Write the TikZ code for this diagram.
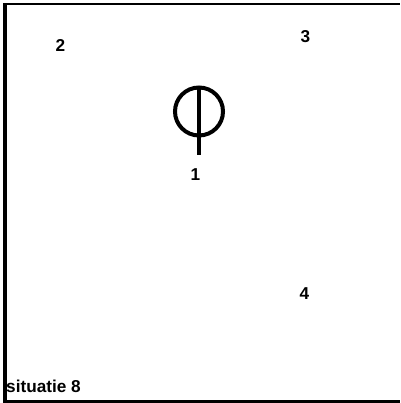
\documentclass[tikz,border=0pt]{standalone}
\usepackage{fontspec}
\setmainfont{Liberation Sans}
\tikzset{lbl/.style={font=\fontsize{17.2pt}{20pt}\selectfont\bfseries,inner sep=0pt}}
\begin{document}
\begin{tikzpicture}[x=1pt,y=-1pt]
\useasboundingbox (0,0) rectangle (400,403);
\fill[black] (3,3) rectangle (400,5.5);
\fill[black] (3,3) rectangle (6.5,403);
\fill[black] (3,400) rectangle (400,403);
\node[circle,draw,line width=4pt,minimum size=48pt,inner sep=0pt] (c) at (199,111.5) {};
\coordinate (t) at (199,87);
\coordinate (b) at (199,155);
\draw[line width=3.5pt] (t) -- (b);
\node[lbl] (n1) at (195.5,175) {1};
\node[lbl] (n2) at (60.5,45) {2};
\node[lbl] (n3) at (305.5,36.5) {3};
\node[lbl] (n4) at (304.5,294) {4};
\node[lbl,anchor=west] (s) at (6,386) {situatie 8};
\end{tikzpicture}
\end{document}
